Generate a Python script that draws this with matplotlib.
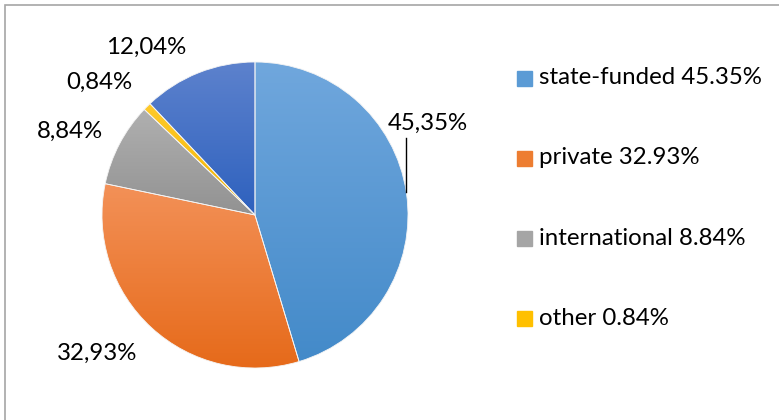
import numpy as np
import matplotlib
matplotlib.use("Agg")
import matplotlib.pyplot as plt
from matplotlib.patches import Rectangle
from matplotlib.colors import LinearSegmentedColormap

# slices, clockwise from 12 o'clock
categories = ["state-funded", "private", "international", "other", "unlabelled"]
shares = [45.35, 32.93, 8.84, 0.84, 12.04]
legend_count = 4  # last slice has no legend entry

# gradient (top, bottom) per slice, Excel-ish shading
grad_colors = [("#70a7dd", "#438ac9"),
               ("#f39158", "#e66a1a"),
               ("#b0b0b0", "#929292"),
               ("#ffca2c", "#f2b400"),
               ("#5d82cd", "#2e61be")]
legend_colors = ["#5b9bd5", "#ed7d31", "#a5a5a5", "#ffc000"]

W, H = 779, 420
CX, CY, R = 255, 215, 153  # pie centre / radius in pixels
FS = 17.3


def px(x, y):
    """pixel (from top-left) -> data units of the full-figure axes"""
    return (x - CX) / R, (CY - y) / R


fig = plt.figure(figsize=(W / 100, H / 100), dpi=100)
plt.rcParams["font.family"] = ["Lato", "DejaVu Sans"]
ax = fig.add_axes([0, 0, 1, 1])

wedges, _ = ax.pie(shares, startangle=90, counterclock=False, radius=1,
                   colors=[c[0] for c in grad_colors],
                   wedgeprops=dict(edgecolor="#f4f4f4", linewidth=0.6))

# vertical gradient inside each wedge
for w, (top, bot) in zip(wedges, grad_colors):
    ext = w.get_path().get_extents()
    cmap = LinearSegmentedColormap.from_list("g", [bot, top])
    grad = np.linspace(0, 1, 256).reshape(-1, 1)
    im = ax.imshow(grad, cmap=cmap, origin="lower", aspect="auto",
                   extent=(ext.x0, ext.x1, ext.y0, ext.y1), zorder=1)
    im.set_clip_path(w)
    w.set_facecolor("none")
    w.set_zorder(2)

# data labels (Excel placed them by hand)
label_px = [(428, 123), (97, 353), (70, 131), (99, 82), (146, 47)]
for val, (lx, ly) in zip(shares, label_px):
    x, y = px(lx, ly)
    ax.text(x, y, f"{val:.2f}%".replace(".", ","), ha="center", va="center",
            fontsize=FS, color="black")

# leader line for the first label
y0 = px(0, 192)[1]
x0 = np.sqrt(1 - y0 ** 2)
ax.plot([x0, x0], [y0, px(0, 138)[1]], color="black", lw=1)

# legend drawn by hand to match spacing
rows_y = [78, 158, 238, 318]
for i in range(legend_count):
    bx, by = px(517, rows_y[i] + 8)
    ax.add_patch(Rectangle((bx, by), 15 / R, 15 / R, color=legend_colors[i]))
    tx, ty = px(539, rows_y[i])
    ax.text(tx, ty, f"{categories[i]} {shares[i]:.2f}%", ha="left", va="center",
            fontsize=FS, color="black")

ax.set_xlim(-CX / R, (W - CX) / R)
ax.set_ylim(-(H - CY) / R, CY / R)
ax.set_aspect("auto")
ax.axis("off")

# chart frame (open on the right and bottom, as in the cropped screenshot)
fig.add_artist(Rectangle((5 / W, -0.01), 1.05, (H - 5) / H + 0.01, transform=fig.transFigure,
                         fill=False, edgecolor="#a6a6a6", lw=1.2))

fig.savefig("out.png", dpi=100)
